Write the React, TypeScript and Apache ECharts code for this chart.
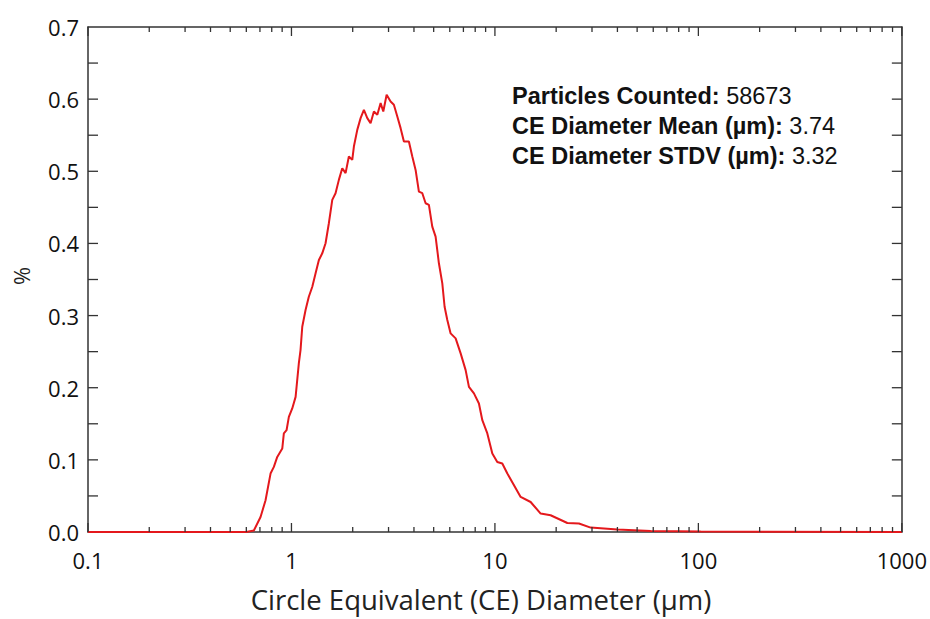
import React, { useEffect, useRef } from "react";
import * as echarts from "echarts";

const diameters = [
  0.1, 0.2, 0.4, 0.6, 0.6533, 0.7048, 0.7459, 0.7892, 0.8194, 0.8515, 0.9012, 0.9175, 0.946,
  0.971, 1.009, 1.048, 1.087, 1.108, 1.13, 1.173, 1.217, 1.266, 1.314, 1.364, 1.417, 1.471,
  1.527, 1.587, 1.647, 1.71, 1.777, 1.845, 1.915, 1.99, 2.027, 2.106, 2.187, 2.27, 2.359,
  2.448, 2.542, 2.642, 2.743, 2.827, 2.936, 3.071, 3.187, 3.313, 3.439, 3.57, 3.777, 3.926,
  4.075, 4.23, 4.397, 4.564, 4.737, 4.921, 5.11, 5.305, 5.513, 5.658, 5.834, 6.057, 6.411,
  6.785, 7.179, 7.453, 7.887, 8.344, 8.671, 9.176, 9.71, 10.27, 10.87, 11.51, 13.38, 14.98,
  16.78, 18.78, 22.7, 25.88, 29.55, 39.99, 58.3, 102.6, 200, 1000,
];
const percents = [
  0, 0, 0, 0, 0.002, 0.0208, 0.044, 0.081, 0.0902, 0.1041, 0.1157, 0.1366, 0.1411,
  0.1596, 0.1712, 0.1873, 0.2337, 0.2522, 0.2845, 0.3077, 0.3261, 0.34, 0.3586, 0.377, 0.3863, 0.4002,
  0.428, 0.4603, 0.4696, 0.4881, 0.5043, 0.4974, 0.5204, 0.5158, 0.5343, 0.5574, 0.5737, 0.5852, 0.5737,
  0.5667, 0.5828, 0.5783, 0.5945, 0.5828, 0.606, 0.5967, 0.5922, 0.5759, 0.5598, 0.5412, 0.5412, 0.5204,
  0.5019, 0.4718, 0.4696, 0.4557, 0.4534, 0.4233, 0.4094, 0.3725, 0.3447, 0.3122, 0.2938, 0.2753, 0.2684,
  0.2476, 0.2244, 0.2012, 0.1921, 0.1782, 0.155, 0.1366, 0.1088, 0.0971, 0.0949, 0.081, 0.0486, 0.0416,
  0.0255, 0.0232, 0.0125, 0.0117, 0.0061, 0.0033, 0.0014, 0.0006, 0.0002, 0,
];

const statLabels = ["Particles Counted:", "CE Diameter Mean (µm):", "CE Diameter STDV (µm):"];
const statValues = ["58673", "3.74", "3.32"];

const xAxisTitle = "Circle Equivalent (CE) Diameter (µm)";
const yAxisTitle = "%";

const xMajorTicks = [0.1, 1, 10, 100, 1000];
const xMinorTicks: number[] = [];
[0.1, 1, 10, 100].forEach((d) => {
  for (let k = 2; k <= 9; k++) xMinorTicks.push(+(k * d).toPrecision(3));
});
const yTicks = [0.05, 0.1, 0.15, 0.2, 0.25, 0.3, 0.35, 0.4, 0.45, 0.5, 0.55, 0.6, 0.65];

const X_MIN = 0.1;
const X_MAX = 1000;
const Y_MIN = 0;
const Y_MAX = 0.7;

export default function App() {
  const ref = useRef<HTMLDivElement>(null);
  useEffect(() => {
    if (!ref.current) return;
    const chart = echarts.init(ref.current, null, { renderer: "svg" });
    const axisColor = "#333";
    const labelFont = "Open Sans";
    const fmtX = (v: number) => (v >= 1 ? String(Math.round(v)) : String(+v.toPrecision(2)));
    const st = { stroke: axisColor, lineWidth: 1.3 };

    const xTickData = [
      ...xMajorTicks.map((v) => [v, 0, 9]),
      ...xMinorTicks.map((v) => [v, 0, 5]),
    ];
    const yTickData = yTicks.map((v) => [1, v, 10]);

    const xTickSeries = (atBottom: boolean) => ({
      type: "custom",
      z: 10,
      silent: true,
      data: xTickData,
      renderItem: (_p: any, api: any) => {
        const p = api.coord([api.value(0), atBottom ? Y_MIN : Y_MAX]);
        const len = api.value(2);
        return {
          type: "line",
          shape: { x1: p[0], y1: p[1], x2: p[0], y2: atBottom ? p[1] - len : p[1] + len },
          style: st,
        };
      },
    });
    const yTickSeries = (atLeft: boolean) => ({
      type: "custom",
      z: 10,
      silent: true,
      data: yTickData,
      renderItem: (_p: any, api: any) => {
        const p = api.coord([atLeft ? X_MIN : X_MAX, api.value(1)]);
        const len = api.value(2);
        return {
          type: "line",
          shape: { x1: p[0], y1: p[1], x2: atLeft ? p[0] + len : p[0] - len, y2: p[1] },
          style: st,
        };
      },
    });

    const axisLine = { show: true, onZero: false, lineStyle: { color: axisColor, width: 1.5 } };

    chart.setOption({
      animation: false,
      backgroundColor: "#ffffff",
      grid: { left: 88, right: 28, top: 27, bottom: 87 },
      xAxis: [
        {
          type: "log",
          logBase: 10,
          min: X_MIN,
          max: X_MAX,
          position: "bottom",
          axisLine,
          axisTick: { show: false },
          axisLabel: {
            margin: 17,
            fontFamily: labelFont,
            fontSize: 22,
            color: "#111",
            formatter: fmtX,
          },
          splitLine: { show: false },
        },
        {
          type: "log",
          logBase: 10,
          min: X_MIN,
          max: X_MAX,
          position: "top",
          axisLine,
          axisTick: { show: false },
          axisLabel: { show: false },
          splitLine: { show: false },
        },
      ],
      yAxis: [
        {
          type: "value",
          min: Y_MIN,
          max: Y_MAX,
          interval: 0.1,
          position: "left",
          axisLine,
          axisTick: { show: false },
          axisLabel: {
            margin: 9,
            fontFamily: labelFont,
            fontSize: 22,
            color: "#111",
            formatter: (v: number) => v.toFixed(1),
          },
          splitLine: { show: false },
        },
        {
          type: "value",
          min: Y_MIN,
          max: Y_MAX,
          interval: 0.1,
          position: "right",
          axisLine,
          axisTick: { show: false },
          axisLabel: { show: false },
          splitLine: { show: false },
        },
      ],
      series: [
        xTickSeries(true),
        xTickSeries(false),
        yTickSeries(true),
        yTickSeries(false),
        {
          type: "line",
          showSymbol: false,
          symbol: "none",
          data: diameters.map((d, i) => [d, percents[i]]),
          lineStyle: { color: "#e4181c", width: 2 },
          z: 5,
        },
      ],
      graphic: [
        ...statLabels.map((lab, i) => ({
          type: "text",
          x: 512,
          y: 96 + i * 30,
          style: {
            text: `{b|${lab}} {n|${statValues[i]}}`,
            fontFamily: "Liberation Sans",
            fontSize: 23.5,
            verticalAlign: "middle",
            rich: {
              b: { fontFamily: "Liberation Sans", fontWeight: "bold", fontSize: 23.5, fill: "#111" },
              n: { fontFamily: "Liberation Sans", fontWeight: "normal", fontSize: 23.5, fill: "#111" },
            },
          },
        })),
        {
          type: "text",
          x: 481,
          y: 599,
          style: {
            text: xAxisTitle,
            fontFamily: labelFont,
            fontSize: 27.5,
            fill: "#222",
            align: "center",
            verticalAlign: "middle",
          },
        },
        {
          type: "text",
          x: 21,
          y: 276,
          rotation: Math.PI / 2,
          style: {
            text: yAxisTitle,
            fontFamily: labelFont,
            fontSize: 22,
            fill: "#222",
            align: "center",
            verticalAlign: "middle",
          },
        },
      ],
    });
    return () => chart.dispose();
  }, []);
  return (
    <div
      ref={ref}
      style={{ position: "fixed", left: 0, top: 0, width: 930, height: 619, background: "#fff" }}
    />
  );
}
